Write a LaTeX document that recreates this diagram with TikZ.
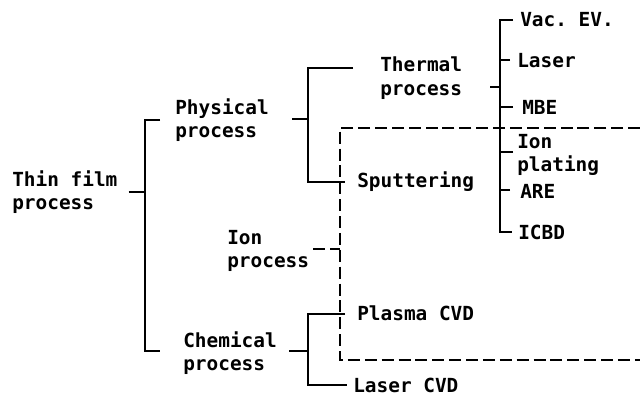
\documentclass[tikz,border=0pt]{standalone}
\usepackage{fontspec}
\setmonofont{DejaVu Sans Mono}
\usepackage{tikz}
\usetikzlibrary{calc}
\newcommand{\lblfont}{\ttfamily\bfseries\fontsize{13.8}{16.7}\selectfont}

\begin{document}
\begin{tikzpicture}[
    x=0.025cm, y=-0.025cm,
    lbl/.style={anchor=west, inner sep=0pt, align=left, font=\lblfont},
    brk/.style={line width=1.9pt},
    ionline/.style={brk, dash pattern=on 8.5pt off 3.5pt},
]
    \useasboundingbox (0,0) rectangle (640,396);

    % labels
    \node[lbl] (thin) at (12,192) {Thin film\\process};
    \node[lbl] (phys) at (175,120) {Physical\\process};
    \node[lbl] (chem) at (183,353) {Chemical\\process};
    \node[lbl] (ion) at (227,251) {Ion\\process};
    \node[lbl] (therm) at (380,78) {Thermal\\process};
    \node[lbl] (sput) at (357,182) {Sputtering};
    \node[lbl] (plasma) at (357,313) {Plasma CVD};
    \node[lbl] (lcvd) at (353,385) {Laser CVD};
    \node[lbl] (vac) at (520,20) {Vac. EV.};
    \node[lbl] (laser) at (517,61) {Laser};
    \node[lbl] (mbe) at (522,107) {MBE};
    \node[lbl] (ionp) at (517,155) {Ion\\plating};
    \node[lbl] (are) at (520,191) {ARE};
    \node[lbl] (icbd) at (518,232) {ICBD};

    % bracket spines
    \coordinate (jroot) at (145,192);
    \coordinate (jphys) at (308,119);
    \coordinate (jchem) at (308,351);
    \coordinate (jtherm) at (500,87);

    \draw[brk] ([shift={(11,0)}]thin.east) -- (jroot);
    \draw[brk] ([shift={(-15,0)}]phys.west) -| (jroot) |- ([shift={(-23,-2)}]chem.west);

    \draw[brk] ([shift={(23,-1)}]phys.east) -- (jphys);
    \draw[brk] ([shift={(-27,-10)}]therm.west) -| (jphys) |- ([shift={(-12,0)}]sput.west);

    \draw[brk] ([shift={(12,-2)}]chem.east) -- (jchem);
    \draw[brk] ([shift={(-12,1)}]plasma.west) -| (jchem) |- ([shift={(-6,0)}]lcvd.west);

    \draw[brk] ([shift={(28,9)}]therm.east) -- (jtherm);
    \draw[brk] ([shift={(-7,0)}]vac.west) -| (jtherm) |- ([shift={(-6,0)}]icbd.west);
    \draw[brk] ([shift={(-7,-1)}]laser.west) -- ($(laser.west -| jtherm)+(0,-1)$);
    \draw[brk] ([shift={(-9,0)}]mbe.west) -- (mbe.west -| jtherm);
    \draw[brk] ([shift={(-4,-3)}]ionp.west) -- ($(ionp.west -| jtherm)+(0,-3)$);
    \draw[brk] ([shift={(-10,-1)}]are.west) -- ($(are.west -| jtherm)+(0,-1)$);

    % ion process frame
    \coordinate (dtl) at (340,128);
    \coordinate (dbl) at (340,360);
    \coordinate (dtr) at (640,128);
    \coordinate (dbr) at (640,360);
    \draw[ionline] (dtr) -- (dtl) -- (dbl) -- (dbr);
    \draw[ionline] ([shift={(4,-2)}]ion.east) -- ($(ion.east -| dtl)+(0,-2)$);
\end{tikzpicture}
\end{document}
